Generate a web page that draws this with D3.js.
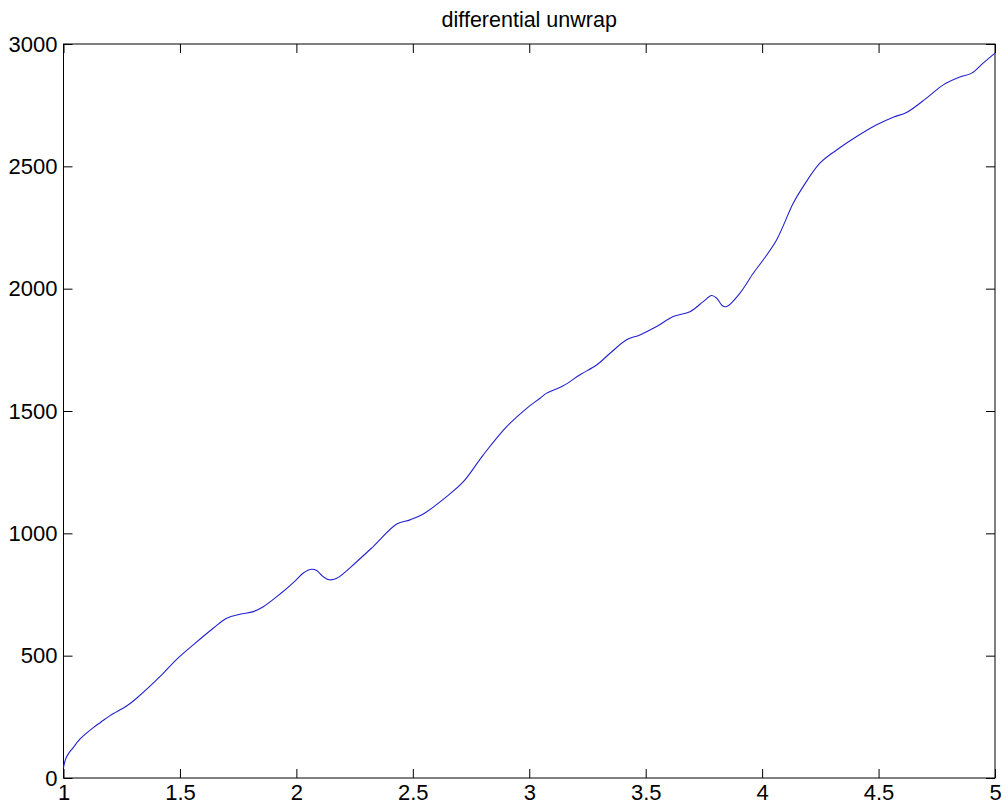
<!DOCTYPE html>
<html>
<head>
<meta charset="utf-8">
<script src="https://cdn.jsdelivr.net/npm/d3@7"></script>
<style>
  html, body { margin: 0; padding: 0; background: #ffffff; }
  svg { display: block; }
  text { font-family: "Liberation Sans", Arial, sans-serif; fill: #000; }
</style>
</head>
<body>
<svg id="chart" width="1007" height="812"></svg>
<script>
const titleText = "differential unwrap";
const xTicks = [1, 1.5, 2, 2.5, 3, 3.5, 4, 4.5, 5];
const yTicks = [0, 500, 1000, 1500, 2000, 2500, 3000];
const xValues = [1.000, 1.010, 1.025, 1.042, 1.060, 1.085, 1.128, 1.160, 1.200, 1.271, 1.314, 1.414, 1.486, 1.557, 1.643, 1.701, 1.758, 1.815, 1.858, 1.930, 1.994, 2.030, 2.066, 2.087, 2.116, 2.141, 2.173, 2.259, 2.330, 2.431, 2.488, 2.545, 2.645, 2.717, 2.802, 2.903, 2.989, 3.046, 3.075, 3.146, 3.218, 3.289, 3.347, 3.418, 3.475, 3.547, 3.618, 3.690, 3.747, 3.783, 3.805, 3.830, 3.848, 3.905, 3.962, 4.005, 4.062, 4.134, 4.176, 4.248, 4.320, 4.406, 4.492, 4.563, 4.620, 4.706, 4.778, 4.849, 4.900, 4.949, 5.000];
const yValues = [42, 80, 105, 124, 148, 172, 206, 228, 255, 294, 326, 414, 485, 544, 612, 653, 669, 680, 700, 752, 805, 838, 853, 848, 822, 810, 816, 884, 946, 1038, 1055, 1079, 1150, 1211, 1320, 1436, 1511, 1552, 1573, 1603, 1648, 1688, 1736, 1791, 1811, 1845, 1886, 1906, 1947, 1972, 1961, 1930, 1927, 1982, 2063, 2118, 2199, 2350, 2417, 2513, 2567, 2622, 2670, 2701, 2720, 2779, 2833, 2865, 2881, 2922, 2963];

(function () {
const data = xValues.map((v, i) => ({x: v, y: yValues[i]}));

const mLeft = 63.5, mRight = 995, mTop = 44, mBottom = 778;
const svg = d3.select("#chart");

const x = d3.scaleLinear().domain([1, 5]).range([mLeft, mRight]);
const y = d3.scaleLinear().domain([0, 3000]).range([mBottom, mTop]);

const tickLen = 9;
const fmt = d => String(d);
const tickFont = 22;

const gB = svg.append("g").attr("transform", `translate(0,${mBottom})`)
  .call(d3.axisBottom(x).tickValues(xTicks).tickFormat(fmt).tickSizeInner(-tickLen).tickSizeOuter(0).tickPadding(3));
gB.selectAll("text").attr("font-size", tickFont).attr("dy", "0.71em").attr("y", 6);
svg.append("g").attr("transform", `translate(0,${mTop})`)
  .call(d3.axisTop(x).tickValues(xTicks).tickFormat("").tickSizeInner(-tickLen).tickSizeOuter(0));
const gL = svg.append("g").attr("transform", `translate(${mLeft},0)`)
  .call(d3.axisLeft(y).tickValues(yTicks).tickFormat(fmt).tickSizeInner(-tickLen).tickSizeOuter(0));
gL.selectAll("text").attr("font-size", tickFont).attr("x", -6);
svg.append("g").attr("transform", `translate(${mRight},0)`)
  .call(d3.axisRight(y).tickValues(yTicks).tickFormat("").tickSizeInner(-tickLen).tickSizeOuter(0));

svg.selectAll(".domain").remove();
svg.selectAll(".tick line").attr("stroke", "#000").attr("stroke-width", 1);
svg.selectAll("g text").attr("font-family", "'Liberation Sans', Arial, sans-serif").attr("fill", "#000");

svg.append("rect")
  .attr("x", mLeft).attr("y", mTop)
  .attr("width", mRight - mLeft).attr("height", mBottom - mTop)
  .attr("fill", "none").attr("stroke", "#000").attr("stroke-width", 1);

const line = d3.line().x(d => x(d.x)).y(d => y(d.y)).curve(d3.curveCatmullRom.alpha(0.5));
svg.append("path").datum(data)
  .attr("d", line)
  .attr("fill", "none")
  .attr("stroke", "#2222d0")
  .attr("stroke-width", 1.1);

svg.append("text")
  .attr("x", (mLeft + mRight) / 2).attr("y", 27)
  .attr("text-anchor", "middle")
  .attr("font-size", 21.5)
  .text(titleText);
})();
</script>
</body>
</html>
